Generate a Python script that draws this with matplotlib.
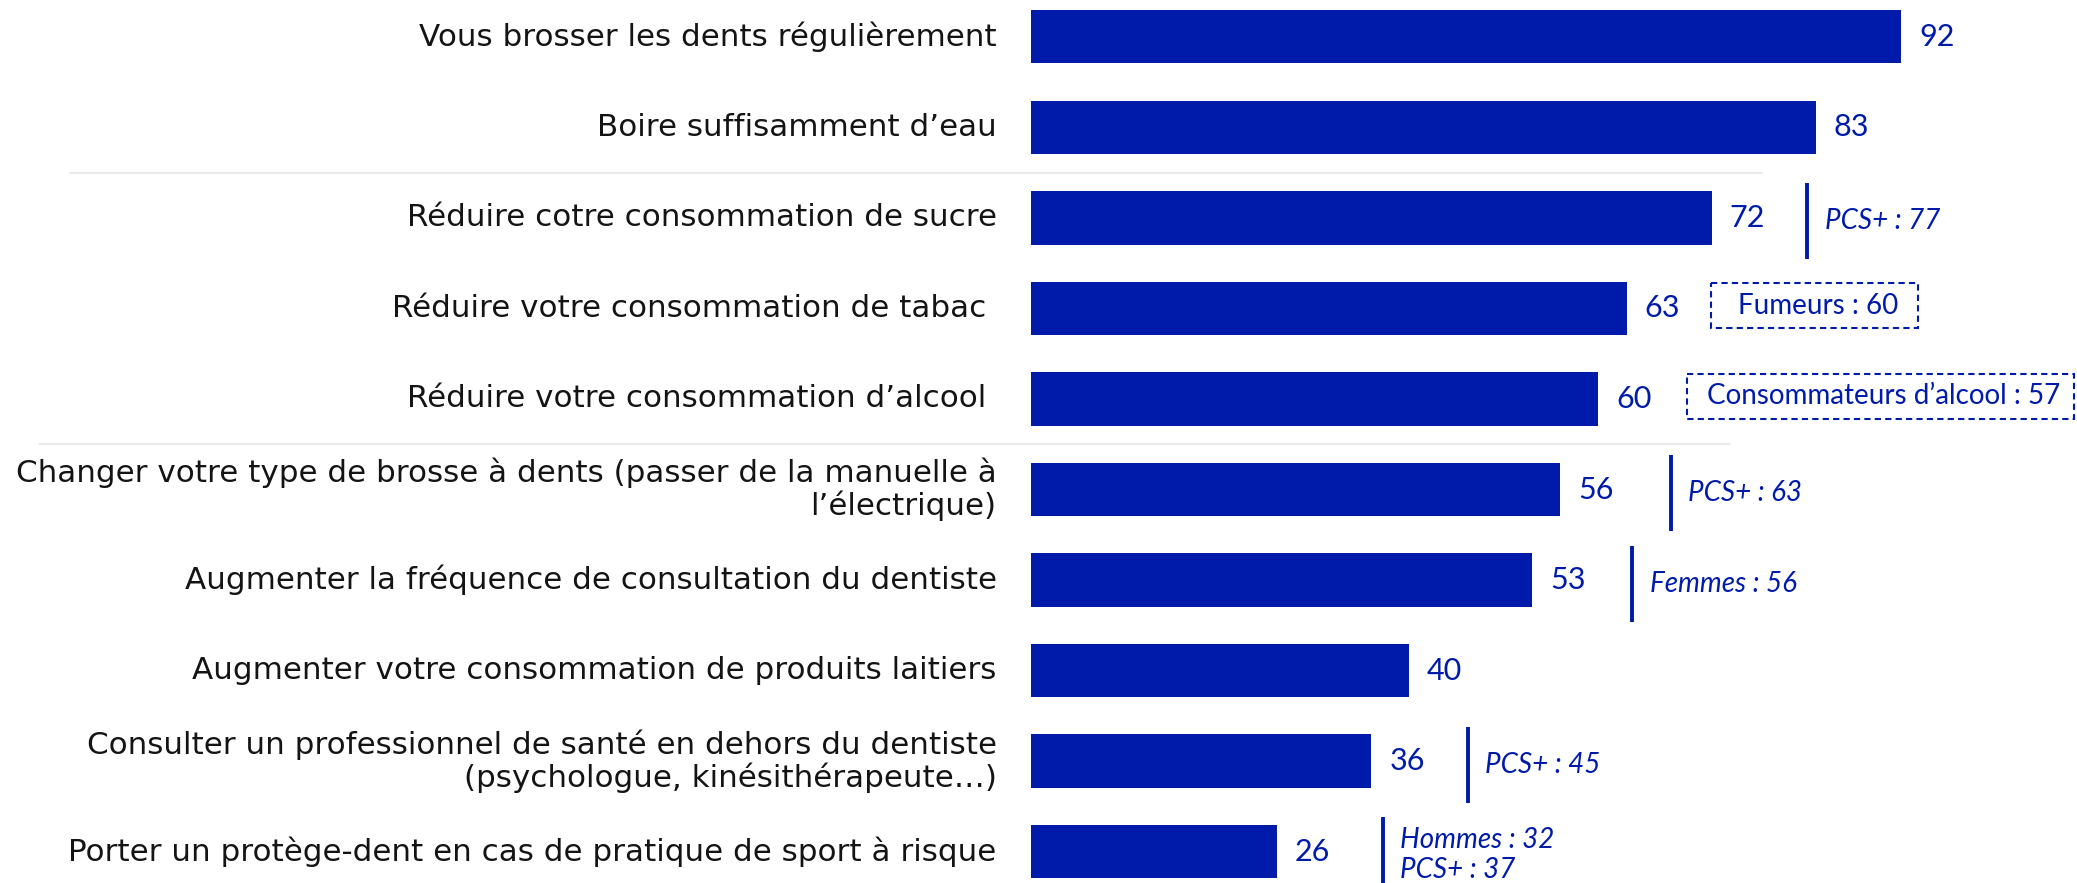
import matplotlib
matplotlib.use("Agg")
import matplotlib.pyplot as plt
from matplotlib.patches import Rectangle
from matplotlib.lines import Line2D
import matplotlib.transforms as mtransforms

# ---------------- data ----------------
categories = [
    "Vous brosser les dents régulièrement",
    "Boire suffisamment d’eau",
    "Réduire cotre consommation de sucre",
    "Réduire votre consommation de tabac ",
    "Réduire votre consommation d’alcool ",
    "Changer votre type de brosse à dents (passer de la manuelle à\nl’électrique)",
    "Augmenter la fréquence de consultation du dentiste",
    "Augmenter votre consommation de produits laitiers",
    "Consulter un professionnel de santé en dehors du dentiste\n(psychologue, kinésithérapeute…)",
    "Porter un protège-dent en cas de pratique de sport à risque",
]
values = [92, 83, 72, 63, 60, 56, 53, 40, 36, 26]
notes = [None, None, "PCS+ : 77", "Fumeurs : 60", "Consommateurs d’alcool : 57",
         "PCS+ : 63", "Femmes : 56", None, "PCS+ : 45", "Hommes : 32\nPCS+ : 37"]
note_kinds = [None, None, "line", "box", "box", "line", "line", None, "line", "line"]

# ---------------- layout / style ----------------
W, H, DPI = 2077, 883, 100
BLUE = "#001AAA"
TEXT = "#141414"
plt.rcParams["font.family"] = ["Lato", "DejaVu Sans"]
LABEL_FONT = ["DejaVu Sans"]

note_offsets = [None, None, 10.1, 8.9, 9.4, 11.7, 10.6, None, 10.2, 11.25]  # data units right of bar value
box_text_pad = {3: 19.5, 4: 14.0}  # px

fig = plt.figure(figsize=(W / DPI, H / DPI), dpi=DPI)
x0_px, px_per_unit = 1030.6, 9.46
xmax = 100
row0_px, pitch_px = 36.7, 90.56
ax = fig.add_axes([x0_px / W, 0, xmax * px_per_unit / W, 1])
ax.set_xlim(0, xmax)
ytop = -row0_px / pitch_px
ybot = (H - row0_px) / pitch_px
ax.set_ylim(ybot, ytop)
ax.axis("off")

ypos = list(range(len(values)))
ax.barh(ypos, values, height=0.59, color=BLUE, zorder=2)

# category labels
for y, c in zip(ypos, categories):
    ax.text(0, y, c, transform=ax.transData + mtransforms.ScaledTranslation(-24.5 / 72, 0, fig.dpi_scale_trans),
            ha="right", va="center", fontsize=22.3, color=TEXT, linespacing=1.1, family=LABEL_FONT)

# value labels
for y, v in zip(ypos, values):
    ax.text(v, y, f"{v}", transform=ax.transData + mtransforms.ScaledTranslation(13 / 72, 0, fig.dpi_scale_trans),
            ha="left", va="center", fontsize=22, color=BLUE)

# separators
tr_sep = mtransforms.blended_transform_factory(fig.transFigure, ax.transData)
for ysep, xa, xb in [(1.5, 70, 1762), (4.5, 40, 1729)]:
    fig.add_artist(Line2D([xa / W, xb / W], [ysep, ysep], transform=tr_sep, color="#ebebeb", lw=1.6, zorder=0))

# annotations
fig.canvas.draw()
renderer = fig.canvas.get_renderer()
for y, v, n, k, off in zip(ypos, values, notes, note_kinds, note_offsets):
    if n is None:
        continue
    xa = v + off
    if k == "line":
        ax.plot([xa, xa], [y - 0.38, y + 0.46], color=BLUE, lw=2.8, solid_capstyle="butt", clip_on=False)
        ax.text(xa, y + 0.04, n, transform=ax.transData + mtransforms.ScaledTranslation(12.5 / 72, 0, fig.dpi_scale_trans),
                ha="left", va="center", fontsize=20, style="italic", color=BLUE, linespacing=1.2, clip_on=False)
    else:
        pad = box_text_pad[y]
        t = ax.text(xa, y - 0.03, n, transform=ax.transData + mtransforms.ScaledTranslation(pad / 72, 0, fig.dpi_scale_trans),
                    ha="left", va="center", fontsize=20, color=BLUE, clip_on=False)
        bb = t.get_window_extent(renderer)
        inv = ax.transData.inverted()
        (bx1, _), = inv.transform([(bb.x1 + pad, 0)])
        ax.add_patch(Rectangle((xa, y - 0.28), bx1 - xa, 0.5, fill=False, edgecolor=BLUE, lw=1.5,
                               linestyle=(0, (3, 2)), clip_on=False))

fig.savefig("out.png", dpi=DPI)
